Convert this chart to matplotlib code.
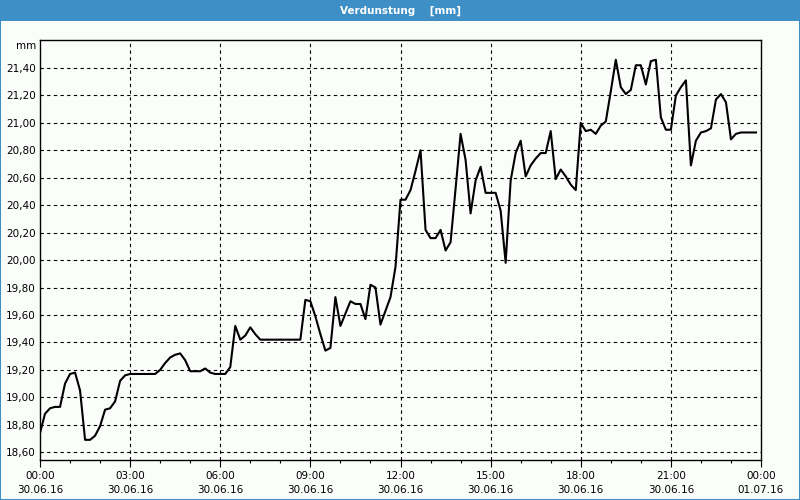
import matplotlib
matplotlib.use("Agg")
import matplotlib.pyplot as plt
import numpy as np
from matplotlib.ticker import FixedLocator, MultipleLocator

# Verdunstung [mm], 10-Minuten-Werte vom 30.06.16 00:00 bis 23:50
verdunstung = [
    18.74, 18.88, 18.92, 18.93, 18.93, 19.10, 19.17, 19.18, 19.05, 18.69,
    18.69, 18.72, 18.79, 18.91, 18.92, 18.97, 19.12, 19.16, 19.17, 19.17,
    19.17, 19.17, 19.17, 19.17, 19.20, 19.25, 19.29, 19.31, 19.32, 19.27,
    19.19, 19.19, 19.19, 19.21, 19.18, 19.17, 19.17, 19.17, 19.22, 19.52,
    19.42, 19.45, 19.51, 19.46, 19.42, 19.42, 19.42, 19.42, 19.42, 19.42,
    19.42, 19.42, 19.42, 19.71, 19.70, 19.59, 19.46, 19.34, 19.36, 19.73,
    19.52, 19.61, 19.70, 19.68, 19.68, 19.57, 19.82, 19.80, 19.53, 19.63,
    19.73, 19.95, 20.44, 20.44, 20.51, 20.65, 20.80, 20.22, 20.16, 20.16,
    20.22, 20.07, 20.13, 20.52, 20.92, 20.73, 20.34, 20.58, 20.68, 20.49,
    20.49, 20.49, 20.36, 19.98, 20.58, 20.78, 20.87, 20.61, 20.69, 20.74,
    20.78, 20.78, 20.94, 20.59, 20.66, 20.61, 20.55, 20.51, 21.00, 20.94,
    20.95, 20.92, 20.98, 21.01, 21.23, 21.46, 21.26, 21.21, 21.24, 21.42,
    21.42, 21.28, 21.45, 21.46, 21.04, 20.95, 20.95, 21.20, 21.26, 21.31,
    20.69, 20.87, 20.93, 20.94, 20.96, 21.17, 21.21, 21.15, 20.88, 20.92,
    20.93, 20.93, 20.93, 20.93,
]
stunden = np.arange(len(verdunstung)) / 6.0

x_ticks = [0, 3, 6, 9, 12, 15, 18, 21, 24]
x_labels = ["00:00\n30.06.16", "03:00\n30.06.16", "06:00\n30.06.16",
            "09:00\n30.06.16", "12:00\n30.06.16", "15:00\n30.06.16",
            "18:00\n30.06.16", "21:00\n30.06.16", "00:00\n01.07.16"]
y_ticks = [18.6, 18.8, 19.0, 19.2, 19.4, 19.6, 19.8, 20.0, 20.2,
           20.4, 20.6, 20.8, 21.0, 21.2, 21.4]

bg = "#fafdfa"
blau = "#3d8fc6"

fig = plt.figure(figsize=(8, 5), dpi=100, facecolor=bg)

# Titelleiste
fig.patches.append(plt.Rectangle((0, 1 - 21 / 500), 1, 21 / 500, transform=fig.transFigure,
                                 facecolor=blau, edgecolor="none", zorder=0))
fig.patches.append(plt.Rectangle((0, 0), 1, 1, transform=fig.transFigure,
                                 facecolor="none", edgecolor=blau, linewidth=1.5, zorder=5))
fig.text(0.5, 1 - 10.5 / 500, "Verdunstung    [mm]", color="white", fontsize=7.5,
         fontweight="bold", ha="center", va="center")

ax = fig.add_axes([40 / 800, 1 - 460 / 500, 721 / 800, 420 / 500])
ax.set_facecolor(bg)
ax.plot(stunden, verdunstung, color="black", linewidth=1.5, zorder=3)

ax.set_xlim(0, 24)
ax.set_ylim(18.543, 21.604)

ax.xaxis.set_major_locator(FixedLocator(x_ticks))
ax.set_xticklabels(x_labels, linespacing=1.5)
ax.xaxis.set_minor_locator(MultipleLocator(1))
ax.tick_params(axis="x", which="major", length=5, width=0.8, pad=3, labelsize=7.5)
ax.tick_params(axis="x", which="minor", length=2.5, width=0.8)

ax.yaxis.set_major_locator(FixedLocator(y_ticks))
ax.set_yticklabels([f"{v:.2f}".replace(".", ",") for v in y_ticks])
ax.tick_params(axis="y", length=0, pad=3, labelsize=7.5)

for v in y_ticks:
    ax.axhline(v, color="black", linewidth=0.8, linestyle=(0, (3, 3)), zorder=1)
for h in x_ticks[1:-1]:
    ax.axvline(h, color="black", linewidth=0.8, linestyle=(0, (3, 3)), zorder=1)

for s in ax.spines.values():
    s.set_color("black")
    s.set_linewidth(1)

fig.text(36 / 800, 1 - 46 / 500, "mm", fontsize=7.5, ha="right", va="center")

fig.savefig("out.png", dpi=100, facecolor=bg)
